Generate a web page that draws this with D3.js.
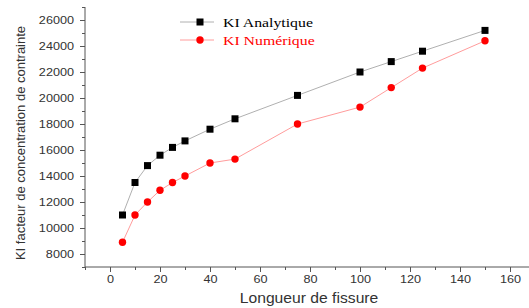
<!DOCTYPE html>
<html>
<head>
<meta charset="utf-8">
<script src="https://cdn.jsdelivr.net/npm/d3@7"></script>
<style>
body { margin: 0; background: #fff; }
</style>
</head>
<body>
<script>
var longueur = [5, 10, 15, 20, 25, 30, 40, 50, 75, 100, 112.5, 125, 150];
var kiAnalytique = [11000, 13500, 14800, 15600, 16200, 16700, 17600, 18400, 20200, 22000, 22800, 23600, 25200];
var kiNumerique = [8900, 11000, 12000, 12900, 13500, 14000, 15000, 15300, 18000, 19300, 20800, 22300, 24400];
var xTicks = [0, 20, 40, 60, 80, 100, 120, 140, 160];
var yTicks = [8000, 10000, 12000, 14000, 16000, 18000, 20000, 22000, 24000, 26000];
var seriesNames = ["KI Analytique", "KI Numérique"];

var svg = d3.select("body").append("svg").attr("width", 529).attr("height", 308);

var x = d3.scaleLinear().domain([-10, 167.6]).range([85, 529]);
var y = d3.scaleLinear().domain([7000, 27000]).range([267, 7]);

var axisColor = "#555";
var sansFont = "'Liberation Sans', Arial, sans-serif";
// the picture is a bit stretched sideways, so the texts are too
var stretch = 1.15;

// x axis
var gx = svg.append("g").attr("transform", "translate(0,267)");
gx.call(d3.axisBottom(x).tickValues(d3.range(-10, 170, 10)).tickSize(3).tickFormat(""));
gx.selectAll(".tick line").attr("y2", function (d) { return d % 20 === 0 ? 5 : 3; });
gx.selectAll("line, path").attr("stroke", axisColor);
gx.select(".domain").attr("d", "M85,0H529");
gx.selectAll(".tick").filter(function (d) { return xTicks.indexOf(d) >= 0; })
    .append("text")
    .attr("transform", "translate(0,16) scale(" + stretch + ",1)")
    .attr("text-anchor", "middle")
    .attr("fill", "#333")
    .style("font", "11px " + sansFont)
    .text(function (d) { return d; });

// y axis
var gy = svg.append("g").attr("transform", "translate(85,0)");
gy.call(d3.axisLeft(y).tickValues(d3.range(7000, 27001, 1000)).tickSize(3).tickFormat(""));
gy.selectAll(".tick line").attr("x2", function (d) { return d % 2000 === 0 ? -5 : -3; });
gy.selectAll("line, path").attr("stroke", axisColor);
gy.select(".domain").attr("d", "M0,7V267");
gy.selectAll(".tick").filter(function (d) { return yTicks.indexOf(d) >= 0; })
    .append("text")
    .attr("transform", "translate(-11,0) scale(" + stretch + ",1)")
    .attr("dy", "0.35em")
    .attr("text-anchor", "end")
    .attr("fill", "#333")
    .style("font", "11px " + sansFont)
    .text(function (d) { return d; });

// axis titles
svg.append("text")
    .attr("transform", "translate(309,303) scale(1.12,1)")
    .attr("text-anchor", "middle")
    .attr("fill", "#333")
    .style("font", "14px " + sansFont)
    .text("Longueur de fissure");

svg.append("text")
    .attr("transform", "translate(25,143) rotate(-90)")
    .attr("text-anchor", "middle")
    .attr("fill", "#333")
    .style("font", "13px " + sansFont)
    .text("KI facteur de concentration de contrainte");

var line = d3.line()
    .x(function (d) { return x(d[0]); })
    .y(function (d) { return y(d[1]); });

var dataA = longueur.map(function (v, i) { return [v, kiAnalytique[i]]; });
var dataN = longueur.map(function (v, i) { return [v, kiNumerique[i]]; });

svg.append("path").datum(dataA).attr("d", line)
    .attr("fill", "none").attr("stroke", "#b0b0b0").attr("stroke-width", 1);
svg.append("path").datum(dataN).attr("d", line)
    .attr("fill", "none").attr("stroke", "#ff9c9c").attr("stroke-width", 1);

svg.selectAll("rect.pA")
    .data(dataA)
    .enter()
    .append("rect")
    .attr("class", "pA")
    .attr("x", function (d) { return x(d[0]) - 3.5; })
    .attr("y", function (d) { return y(d[1]) - 3.5; })
    .attr("width", 7)
    .attr("height", 7)
    .attr("fill", "#000");

svg.selectAll("circle.pN")
    .data(dataN)
    .enter()
    .append("circle")
    .attr("class", "pN")
    .attr("cx", function (d) { return x(d[0]); })
    .attr("cy", function (d) { return y(d[1]); })
    .attr("r", 3.7)
    .attr("fill", "#ff0000");

// legend
var legend = svg.append("g");
var legendColors = ["#000", "#ff0000"];
var legendLines = ["#b0b0b0", "#ff9c9c"];
seriesNames.forEach(function (name, i) {
    var ly = 22 + i * 18;
    legend.append("line")
        .attr("x1", 180).attr("x2", 214).attr("y1", ly).attr("y2", ly)
        .attr("stroke", legendLines[i]);
    if (i === 0) {
        legend.append("rect").attr("x", 196.5).attr("y", ly - 3.5)
            .attr("width", 7).attr("height", 7).attr("fill", "#000");
    } else {
        legend.append("circle").attr("cx", 200).attr("cy", ly).attr("r", 3.7)
            .attr("fill", "#ff0000");
    }
    legend.append("text")
        .attr("transform", "translate(223," + ly + ") scale(1.17,1)")
        .attr("dy", "0.35em")
        .attr("fill", legendColors[i])
        .style("font", "13.5px 'Liberation Serif', 'Times New Roman', serif")
        .text(name);
});
</script>
</body>
</html>
